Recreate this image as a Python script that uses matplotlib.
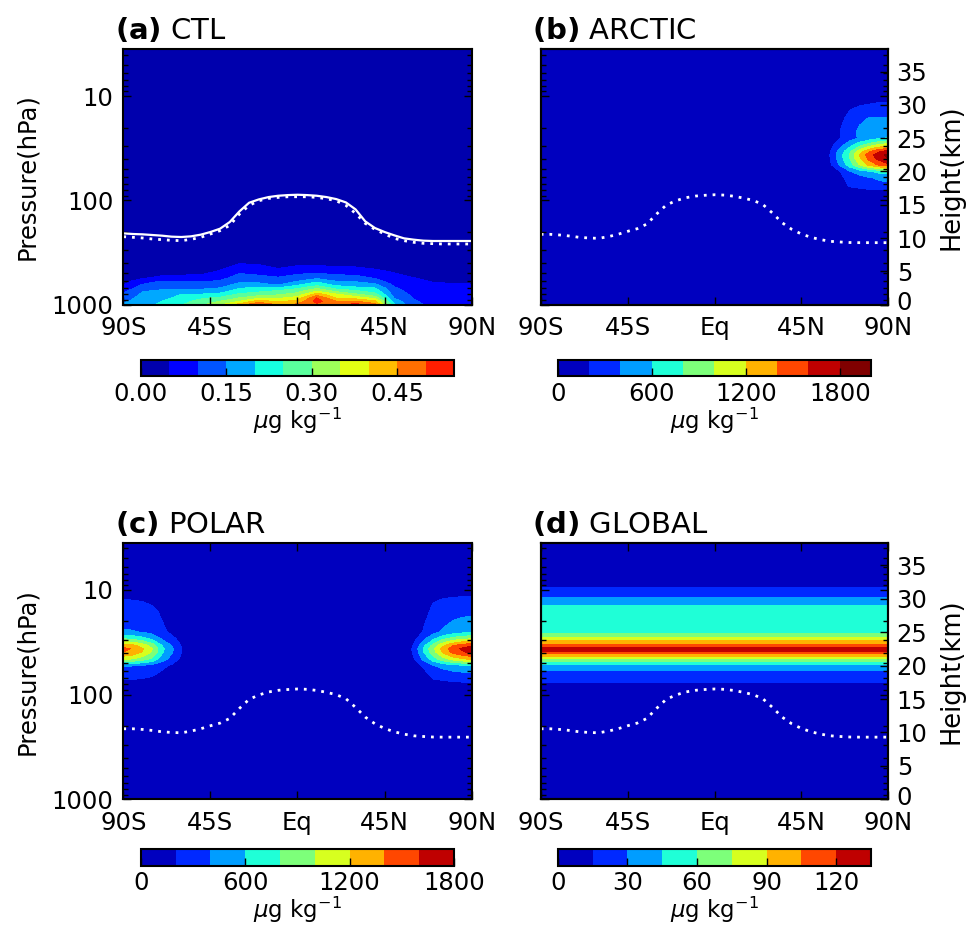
import numpy as np
import matplotlib
matplotlib.use("Agg")
import matplotlib.pyplot as plt
from matplotlib.colors import Normalize
from matplotlib.ticker import LogLocator, NullFormatter
from matplotlib.transforms import ScaledTranslation

# log-pressure height: z = H ln(p0 / p)
H_ECHELLE = 6.8
P_SOL = 1000.0
P_HAUT = 3.55

# ---------------------------------------------------------------------------
# Tropopause (km), every 5 degrees from 90S to 90N
lat_tropo = np.arange(-90, 91, 5)
tropo_ctl = [10.7, 10.6, 10.55, 10.45, 10.35, 10.2, 10.15, 10.25, 10.5, 10.9,
             11.4, 12.4, 14.0, 15.3, 15.8, 16.15, 16.35, 16.45, 16.5, 16.45,
             16.35, 16.15, 15.85, 15.35, 14.3, 12.5, 11.5, 10.9, 10.4, 9.95,
             9.75, 9.6, 9.55, 9.55, 9.55, 9.55, 9.55]
tropo_ctl_moy = [10.2, 10.1, 10.0, 9.85, 9.75, 9.65, 9.6, 9.8, 10.1, 10.6,
                 11.1, 11.9, 13.6, 14.9, 15.6, 15.95, 16.1, 16.2, 16.2, 16.2,
                 16.1, 15.9, 15.6, 14.9, 13.7, 12.2, 11.3, 10.6, 9.95, 9.6,
                 9.35, 9.2, 9.15, 9.1, 9.1, 9.1, 9.1]
tropo_exp = [10.55, 10.55, 10.45, 10.3, 10.1, 10.0, 9.95, 10.2, 10.55, 11.0,
             11.4, 12.1, 13.6, 14.95, 15.6, 16.05, 16.3, 16.42, 16.5, 16.45,
             16.28, 16.0, 15.65, 15.05, 13.75, 12.3, 11.3, 10.6, 10.1, 9.75,
             9.5, 9.4, 9.32, 9.3, 9.3, 9.3, 9.3]

# ---------------------------------------------------------------------------
# (a) CTL, lower troposphere (ug/kg); rows = heights, columns = 90S..90N / 10 deg
lat_ctl = np.arange(-90, 91, 10)
z_ctl = [0, 0.5, 1, 1.5, 2, 2.5, 3, 3.5, 4, 5, 6, 7]
ctl = [
    [0.155, 0.18, 0.21, 0.245, 0.29, 0.34, 0.42, 0.51, 0.44, 0.46, 0.49, 0.48, 0.52, 0.47, 0.205, 0.11, 0.09, 0.08, 0.08],
    [0.14, 0.175, 0.2, 0.23, 0.27, 0.3, 0.35, 0.42, 0.39, 0.415, 0.52, 0.45, 0.45, 0.41, 0.175, 0.105, 0.085, 0.077, 0.076],
    [0.125, 0.168, 0.185, 0.215, 0.24, 0.26, 0.3, 0.34, 0.34, 0.37, 0.5, 0.395, 0.38, 0.33, 0.147, 0.097, 0.08, 0.073, 0.072],
    [0.105, 0.16, 0.17, 0.202, 0.205, 0.215, 0.26, 0.28, 0.295, 0.32, 0.43, 0.36, 0.31, 0.27, 0.13, 0.09, 0.075, 0.068, 0.067],
    [0.09, 0.148, 0.158, 0.165, 0.165, 0.18, 0.225, 0.24, 0.26, 0.285, 0.35, 0.29, 0.26, 0.23, 0.118, 0.082, 0.068, 0.063, 0.062],
    [0.065, 0.125, 0.14, 0.14, 0.14, 0.15, 0.195, 0.21, 0.2, 0.24, 0.29, 0.23, 0.21, 0.2, 0.105, 0.074, 0.062, 0.057, 0.056],
    [0.048, 0.103, 0.12, 0.12, 0.12, 0.125, 0.165, 0.165, 0.145, 0.19, 0.23, 0.185, 0.175, 0.16, 0.09, 0.066, 0.055, 0.052, 0.051],
    [0.035, 0.075, 0.103, 0.1, 0.095, 0.105, 0.14, 0.135, 0.125, 0.15, 0.19, 0.15, 0.145, 0.12, 0.075, 0.058, 0.048, 0.046, 0.045],
    [0.025, 0.045, 0.065, 0.07, 0.07, 0.085, 0.12, 0.115, 0.105, 0.125, 0.14, 0.125, 0.12, 0.095, 0.065, 0.051, 0.04, 0.038, 0.037],
    [0.015, 0.02, 0.02, 0.025, 0.03, 0.055, 0.09, 0.08, 0.065, 0.08, 0.085, 0.075, 0.07, 0.06, 0.045, 0.03, 0.025, 0.022, 0.02],
    [0.01, 0.01, 0.01, 0.01, 0.01, 0.025, 0.055, 0.05, 0.03, 0.045, 0.045, 0.04, 0.04, 0.03, 0.02, 0.015, 0.012, 0.01, 0.01],
    [0.005, 0.005, 0.005, 0.005, 0.005, 0.01, 0.02, 0.02, 0.01, 0.015, 0.015, 0.015, 0.015, 0.01, 0.01, 0.005, 0.005, 0.005, 0.005],
]

# ---------------------------------------------------------------------------
# stratospheric plumes (ug/kg); rows = heights below
z_panache = [16, 17, 18, 19, 20, 21, 22, 22.5, 23, 24, 25, 26, 28, 30, 31, 32]

# (b) ARCTIC, columns 55N..90N
lat_nord = [55, 60, 65, 70, 75, 80, 85, 90]
arctic = [
    [0, 0, 5, 30, 35, 38, 40, 40],
    [0, 10, 40, 120, 130, 140, 148, 150],
    [0, 30, 100, 230, 270, 320, 355, 370],
    [0, 45, 140, 280, 330, 380, 420, 440],
    [5, 80, 200, 380, 480, 570, 650, 700],
    [10, 170, 430, 700, 1000, 1250, 1430, 1550],
    [30, 205, 510, 800, 1170, 1460, 1670, 1800],
    [40, 210, 520, 820, 1200, 1500, 1720, 1860],
    [30, 195, 480, 760, 1100, 1370, 1570, 1700],
    [15, 130, 320, 520, 720, 890, 1020, 1100],
    [5, 80, 200, 330, 420, 500, 570, 620],
    [0, 70, 200, 330, 430, 480, 520, 540],
    [0, 40, 130, 280, 370, 405, 415, 420],
    [0, 10, 50, 150, 190, 210, 230, 240],
    [0, 0, 20, 80, 120, 135, 145, 150],
    [0, 0, 0, 20, 40, 50, 55, 60],
]

# (c) POLAR, southern columns 90S..55S and northern columns 55N..90N
lat_sud = [-90, -85, -80, -75, -70, -65, -60, -55]
polar_sud = [
    [30, 29, 27, 24, 20, 5, 0, 0],
    [100, 97, 90, 80, 60, 30, 10, 0],
    [210, 205, 195, 175, 130, 80, 25, 0],
    [300, 290, 270, 240, 180, 120, 45, 0],
    [420, 405, 370, 330, 250, 170, 80, 5],
    [1050, 1000, 900, 760, 500, 330, 160, 12],
    [1400, 1330, 1180, 970, 630, 420, 200, 18],
    [1450, 1380, 1220, 1000, 650, 440, 205, 20],
    [1320, 1250, 1110, 910, 600, 400, 190, 15],
    [800, 760, 680, 560, 380, 260, 130, 8],
    [430, 415, 390, 340, 250, 160, 80, 0],
    [370, 360, 340, 300, 220, 130, 50, 0],
    [300, 295, 285, 250, 170, 90, 20, 0],
    [195, 190, 180, 150, 90, 30, 0, 0],
    [120, 115, 105, 85, 40, 10, 0, 0],
    [50, 45, 40, 30, 10, 0, 0, 0],
]
polar_nord = [
    [0, 0, 5, 25, 32, 36, 38, 40],
    [0, 10, 40, 110, 120, 130, 136, 140],
    [0, 30, 90, 200, 220, 240, 252, 260],
    [0, 55, 150, 280, 330, 370, 395, 410],
    [5, 90, 230, 390, 460, 520, 560, 580],
    [15, 180, 450, 700, 920, 1080, 1180, 1250],
    [28, 230, 580, 910, 1220, 1440, 1570, 1650],
    [30, 240, 600, 950, 1270, 1500, 1630, 1720],
    [25, 215, 540, 860, 1150, 1380, 1500, 1580],
    [12, 140, 350, 560, 760, 880, 960, 1000],
    [5, 85, 210, 340, 430, 500, 550, 580],
    [0, 70, 190, 300, 380, 430, 460, 480],
    [0, 40, 120, 250, 310, 350, 365, 370],
    [0, 10, 50, 180, 200, 215, 225, 230],
    [0, 0, 20, 90, 120, 135, 145, 150],
    [0, 0, 0, 20, 40, 50, 55, 60],
]

# (d) GLOBAL, zonally uniform layer: vertical profile
z_global = [0, 15, 16.5, 17.5, 18.5, 19.5, 20, 20.5, 21, 21.5, 22, 22.5, 23,
            23.5, 24, 24.5, 25, 26, 27, 28, 29, 30, 31, 32, 33, 40]
profil_global = [0, 2, 9, 15.5, 23, 33, 44, 60.5, 77, 96, 118, 131, 114,
                 99, 82, 68, 57, 54, 52, 49, 45.5, 33, 22, 12, 4, 0]

# colour levels and colorbar ticks
niveaux_a = np.linspace(0, 0.55, 12)
niveaux_b = np.linspace(0, 2000, 11)
niveaux_c = np.linspace(0, 1800, 10)
niveaux_d = np.linspace(0, 135, 10)
ticks_a = [0, 0.15, 0.30, 0.45]
ticks_b = [0, 600, 1200, 1800]
ticks_c = [0, 600, 1200, 1800]
ticks_d = [0, 30, 60, 90, 120]

TAILLE_TICK = 17.5


def en_pression(z):
    """Height (km) -> pressure (hPa)."""
    return P_SOL * np.exp(-np.asarray(z, dtype=float) / H_ECHELLE)


def trace_panneau(fig, pos, lat, z, champ, niveaux, vmax, titre,
                  gauche=True, ticks_haut=False):
    ax = fig.add_axes(pos)
    cs = ax.contourf(lat, en_pression(z), champ, levels=niveaux,
                     cmap='jet', norm=Normalize(0, vmax))
    ax.set_yscale('log')
    ax.set_ylim(P_SOL, P_HAUT)
    ax.set_xlim(-90, 90)
    ax.set_xticks([-90, -45, 0, 45, 90])
    ax.set_xticklabels(['90S', '45S', 'Eq', '45N', '90N'])
    ax.set_yticks([10, 100, 1000])
    ax.set_yticklabels(['10', '100', '1000'])
    ax.yaxis.set_minor_locator(LogLocator(subs=range(2, 10)))
    ax.yaxis.set_minor_formatter(NullFormatter())
    ax.tick_params(which='both', direction='in', labelsize=TAILLE_TICK,
                   left=True, right=True, top=ticks_haut, bottom=True)
    ax.tick_params(which='major', length=6, width=1, pad=7)
    ax.tick_params(which='minor', length=3.5, width=1)
    ax.tick_params(axis='x', pad=8.5)
    for sp in ax.spines.values():
        sp.set_linewidth(1.5)

    if gauche:
        ax.set_ylabel('Pressure(hPa)', fontsize=17.5, labelpad=9)
    else:
        ax.tick_params(labelleft=False)
        ax2 = ax.twinx()
        ax2.set_ylim(0, H_ECHELLE * np.log(P_SOL / P_HAUT))
        ax2.set_yticks(range(0, 40, 5))
        ax2.tick_params(direction='in', length=6, width=1,
                        labelsize=TAILLE_TICK, pad=6)
        ax2.set_ylabel('Height(km)', fontsize=18.5, labelpad=8)
        for sp in ax2.spines.values():
            sp.set_linewidth(1.5)
        # twinx puts the pressure ticks on the left only
        ax.tick_params(axis='y', which='both', right=True)
        # lift the "0" a little so it clears the 90N label below it
        zero = ax2.get_yticklabels()[0]
        zero.set_transform(zero.get_transform()
                           + ScaledTranslation(0, 3 / 72, fig.dpi_scale_trans))

    ax.text(-0.024, 1.04, titre, transform=ax.transAxes, fontsize=21,
            ha='left', va='baseline')
    return ax, cs


def trace_barre(fig, pos, cs, ticks, fmt=None):
    cax = fig.add_axes(pos)
    cb = fig.colorbar(cs, cax=cax, orientation='horizontal', ticks=ticks,
                      format=fmt)
    cb.outline.set_linewidth(1.5)
    cax.tick_params(direction='in', length=5.5, width=1,
                    labelsize=TAILLE_TICK, pad=4)
    cb.set_label(r'$\mu$g kg$^{-1}$', fontsize=16.5, labelpad=0)
    return cb


def trace_tropo(ax, valeurs, **kw):
    ax.plot(lat_tropo, en_pression(valeurs), color='white', **kw)


pointille = dict(linestyle=(0, (1, 2.15)), linewidth=2,
                 dash_capstyle='butt')

fig = plt.figure(figsize=(9.7, 9.31), dpi=100)

# (a) CTL
z_a = z_ctl + [8, 40]
champ_a = np.vstack([np.array(ctl), np.zeros((2, len(lat_ctl)))])
ax_a, cs_a = trace_panneau(fig, [0.1271, 0.6729, 0.3592, 0.2741],
                           lat_ctl, z_a, champ_a, niveaux_a, 0.6,
                           r'$\mathbf{(a)}$ CTL')
trace_tropo(ax_a, tropo_ctl, linewidth=1.6)
trace_tropo(ax_a, tropo_ctl_moy, **pointille)
trace_barre(fig, [0.1451, 0.5961, 0.3230, 0.0172], cs_a, ticks_a, '%.2f')

# (b) ARCTIC
lat_b = [-90, 50] + lat_nord
z_b = [0, 15] + z_panache + [33, 40]
champ_b = np.pad(np.array(arctic, dtype=float), ((2, 2), (2, 0)))
ax_b, cs_b = trace_panneau(fig, [0.5574, 0.6729, 0.3584, 0.2741],
                           lat_b, z_b, champ_b, niveaux_b, 1800,
                           r'$\mathbf{(b)}$ ARCTIC', gauche=False)
trace_tropo(ax_b, tropo_exp, **pointille)
trace_barre(fig, [0.5750, 0.5961, 0.3230, 0.0172], cs_b, ticks_b)

# (c) POLAR
lat_c = lat_sud + [-50, 50] + lat_nord
champ_c = np.hstack([np.array(polar_sud, dtype=float),
                     np.zeros((len(z_panache), 2)),
                     np.array(polar_nord, dtype=float)])
champ_c = np.pad(champ_c, ((2, 2), (0, 0)))
ax_c, cs_c = trace_panneau(fig, [0.1271, 0.1414, 0.3592, 0.2756],
                           lat_c, z_b, champ_c, niveaux_c, 1800,
                           r'$\mathbf{(c)}$ POLAR', ticks_haut=True)
trace_tropo(ax_c, tropo_exp, **pointille)
trace_barre(fig, [0.1451, 0.0702, 0.3230, 0.0179], cs_c, ticks_c)

# (d) GLOBAL
champ_d = np.column_stack([profil_global, profil_global])
ax_d, cs_d = trace_panneau(fig, [0.5574, 0.1414, 0.3584, 0.2756],
                           [-90, 90], z_global, champ_d, niveaux_d, 135,
                           r'$\mathbf{(d)}$ GLOBAL', gauche=False,
                           ticks_haut=True)
trace_tropo(ax_d, tropo_exp, **pointille)
trace_barre(fig, [0.5750, 0.0702, 0.3230, 0.0179], cs_d, ticks_d)

fig.savefig('out.png', dpi=100)
